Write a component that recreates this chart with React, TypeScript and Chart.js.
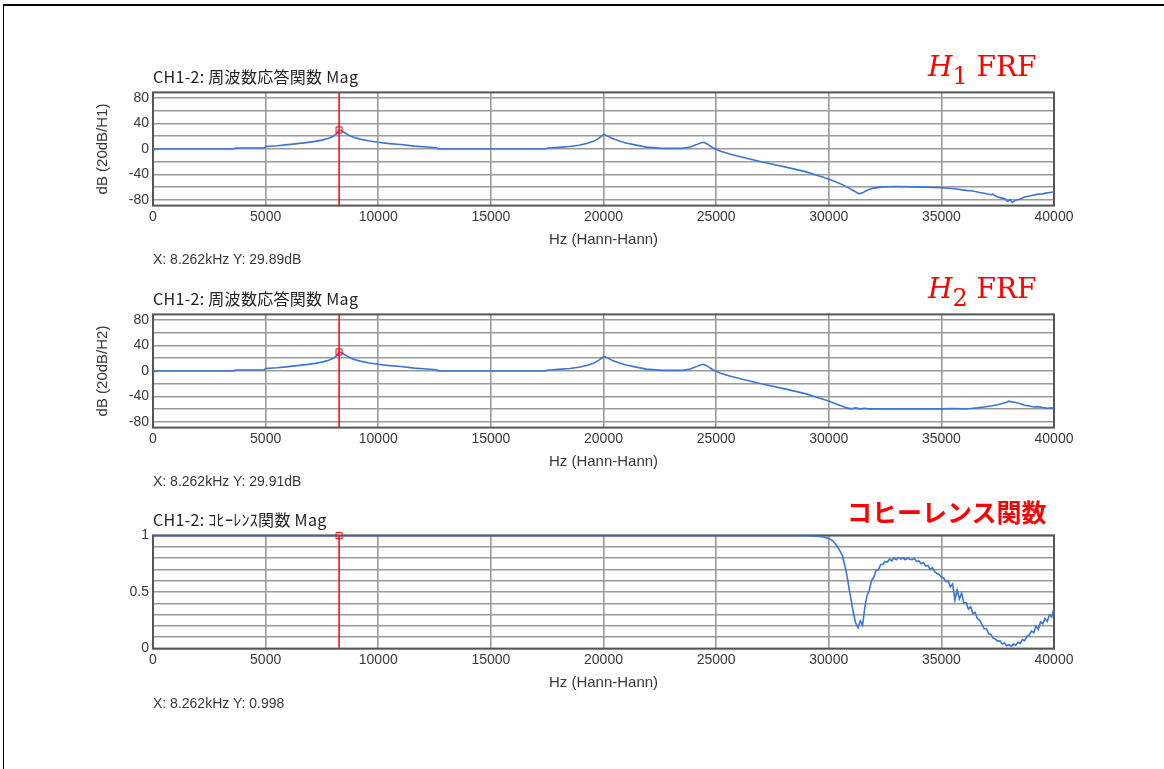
import React, { useEffect, useRef } from "react";
import { Chart, registerables } from "chart.js";

Chart.register(...registerables);

// ---- tick values ----
const xTickHz = [0, 5000, 10000, 15000, 20000, 25000, 30000, 35000, 40000];
const dbGridTicks = [-80, -60, -40, -20, 0, 20, 40, 60, 80];
const dbLabelTicks = [-80, -40, 0, 40, 80];
const cohGridTicks = [0, 0.1, 0.2, 0.3, 0.4, 0.5, 0.6, 0.7, 0.8, 0.9, 1];
const cohLabelTicks = [0, 0.5, 1];

// ---- cursor readouts ----
const cursorHz = 8262;
const cursorH1Db = 29.89;
const cursorH2Db = 29.91;
const cursorCoh = 0.998;

// ---- FRF (shared part 0-30 kHz) ----
const frfLowHz = [0, 200, 3600, 3650, 4950, 5000, 5500, 5900, 6400, 6800, 7200, 7500, 7800, 8000, 8150, 8262, 8350, 8500, 8700, 8900, 9200, 9600, 10000, 10500, 11000, 11600, 12000, 12600, 12650, 17400, 17500, 18000, 18500, 18900, 19250, 19550, 19800, 19950, 20020, 20150, 20400, 20700, 21000, 21400, 21900, 22600, 23500, 23850, 24100, 24300, 24450, 24600, 24850, 25200, 25600, 26300, 27200, 28100, 29000, 29500, 30000];
const frfLowDb = [-1, 0, 0, 1.5, 1.5, 4, 5, 6.5, 8.5, 10, 12, 14, 17, 20, 24, 29.9, 29, 26, 21.5, 18.5, 15.5, 12.5, 10.5, 8.5, 7, 4.5, 3.5, 2, 0, 0, 1.3, 2.5, 4, 6, 8.5, 12, 17, 21.5, 23, 21, 16.5, 12.5, 9.5, 6.5, 3, 1, 1, 3, 6.5, 9.5, 10.5, 8, 2, -3.5, -8, -14, -21.5, -28.5, -36, -41.5, -47];

// ---- H1 tail (30-40 kHz) ----
const h1HighHz = [30300, 30600, 30900, 31150, 31350, 31500, 31700, 32000, 32400, 33000, 33700, 34300, 35000, 35600, 36100, 36400, 36600, 36700, 36900, 37000, 37200, 37300, 37400, 37600, 37800, 37950, 38050, 38150, 38300, 38500, 38600, 38700, 38900, 39000, 39100, 39300, 39500, 39700, 39900, 40000];
const h1HighDb = [-51.5, -56, -61.5, -66.5, -70.5, -69, -65, -61.5, -59.5, -59, -59.5, -60, -61, -62.5, -65, -66, -67.5, -68.5, -69.5, -70.5, -72, -71, -74, -76.5, -78, -82.5, -79.5, -84, -80.5, -78.5, -77, -75.5, -74, -73, -72.5, -71, -70.5, -69, -68, -67.5];

// ---- H2 tail (30-40 kHz) ----
const h2HighHz = [30300, 30600, 30800, 31000, 31200, 31400, 31600, 31800, 32000, 33000, 34000, 35000, 35500, 36000, 36300, 36600, 36900, 37200, 37500, 37700, 37900, 38000, 38100, 38300, 38500, 38700, 38900, 39100, 39300, 39500, 39700, 39900, 40000];
const h2HighDb = [-51.5, -55.5, -58, -59.5, -58, -59.5, -58.5, -59.5, -59.5, -59.5, -59.5, -59.5, -59, -59.5, -59, -58, -56.5, -55, -53, -51, -49, -47.5, -48.5, -49.5, -51.5, -54, -55, -56.5, -56, -57.5, -58.5, -58, -59];

// ---- coherence ----
const cohHz = [0, 29000, 29300, 29600, 29800,
  30000, 30100, 30200, 30300, 30400, 30500, 30600, 30700, 30800, 30900,
  31000, 31100, 31200, 31300, 31400, 31500, 31600, 31700, 31800, 31900,
  32000, 32100, 32200, 32300, 32400, 32500, 32600, 32700, 32800, 32900,
  33000, 33100, 33200, 33300, 33400, 33500, 33600, 33700, 33800, 33900,
  34000, 34100, 34200, 34300, 34400, 34500, 34600, 34700, 34800, 34900,
  35000, 35100, 35200, 35300, 35400, 35500, 35600, 35700, 35800, 35900,
  36000, 36100, 36200, 36300, 36400, 36500, 36600, 36700, 36800, 36900,
  37000, 37100, 37200, 37300, 37400, 37500, 37600, 37700, 37800, 37900,
  38000, 38100, 38200, 38300, 38400, 38500, 38600, 38700, 38800, 38900,
  39000, 39100, 39200, 39300, 39400, 39500, 39600, 39700, 39800, 39900,
  40000];
const cohVal = [0.998, 0.998, 0.995, 0.99, 0.984,
  0.972, 0.962, 0.948, 0.925, 0.895, 0.862, 0.825, 0.745, 0.655, 0.535,
  0.42, 0.31, 0.225, 0.185, 0.245, 0.205, 0.36, 0.47, 0.515, 0.6,
  0.63, 0.69, 0.695, 0.74, 0.745, 0.77, 0.765, 0.79, 0.775, 0.8,
  0.785, 0.805, 0.79, 0.8, 0.785, 0.8, 0.79, 0.785, 0.795, 0.77,
  0.775, 0.75, 0.76, 0.73, 0.735, 0.7, 0.715, 0.68, 0.665, 0.655,
  0.63, 0.625, 0.59, 0.6, 0.545, 0.57, 0.43, 0.52, 0.44, 0.49,
  0.4, 0.405, 0.35, 0.37, 0.31, 0.32, 0.265, 0.25, 0.215, 0.175,
  0.175, 0.13, 0.125, 0.09, 0.085, 0.065, 0.07, 0.04, 0.05, 0.025,
  0.035, 0.02, 0.04, 0.03, 0.055, 0.045, 0.08, 0.07, 0.11, 0.12,
  0.155, 0.14, 0.2, 0.17, 0.235, 0.22, 0.265, 0.24, 0.3, 0.28,
  0.36];

const h1Hz = frfLowHz.concat(h1HighHz);
const h1Db = frfLowDb.concat(h1HighDb);
const h2Hz = frfLowHz.concat(h2HighHz);
const h2Db = frfLowDb.concat(h2HighDb);

const BLUE = "#3a76d2";
const RED = "#ff0000";
const GRID = "#9a9a9a";
const TEXT = "#383838";
const SANS = "'Liberation Sans', Arial, sans-serif";

const framePlugin = {
  id: "frame",
  beforeDatasetsDraw(chart: any) {
    const { ctx, chartArea: a } = chart;
    ctx.save();
    ctx.strokeStyle = "#555555";
    ctx.lineWidth = 2;
    ctx.strokeRect(a.left, a.top, a.right - a.left, a.bottom - a.top);
    ctx.restore();
  },
};

function makeConfig(
  hz: number[],
  vals: number[],
  yMin: number,
  yMax: number,
  gridTicks: number[],
  labelTicks: number[],
  yTitle: string,
  cursorVal: number
): any {
  const pts = hz.map((x, i) => ({ x, y: vals[i] }));
  return {
    type: "line",
    data: {
      datasets: [
        { data: pts, borderColor: BLUE, borderWidth: 1.6, pointRadius: 0, tension: 0, order: 3 },
        {
          data: [{ x: cursorHz, y: yMin }, { x: cursorHz, y: yMax }],
          borderColor: RED,
          borderWidth: 1.5,
          pointRadius: 0,
          order: 2,
        },
        {
          data: [{ x: cursorHz, y: cursorVal }],
          showLine: false,
          pointStyle: "rect",
          pointRadius: 4.3,
          pointBorderColor: RED,
          pointBackgroundColor: "rgba(0,0,0,0)",
          pointBorderWidth: 1,
          clip: false,
          order: 1,
        },
      ],
    },
    options: {
      responsive: false,
      animation: false,
      devicePixelRatio: 1,
      layout: { padding: { top: 9, right: 110, bottom: 0, left: 0 } },
      plugins: { legend: { display: false }, tooltip: { enabled: false }, title: { display: false } },
      scales: {
        x: {
          type: "linear",
          min: 0,
          max: 40000,
          afterBuildTicks: (s: any) => {
            s.ticks = xTickHz.map((v) => ({ value: v }));
          },
          afterFit: (s: any) => {
            s.height = 54.4;
          },
          ticks: {
            callback: (v: any) => String(v),
            font: { family: SANS, size: 14 },
            color: TEXT,
            padding: 3,
            maxRotation: 0,
            autoSkip: false,
          },
          grid: { color: GRID, lineWidth: 1.6, drawTicks: false },
          border: { display: false },
          title: {
            display: true,
            text: "Hz (Hann-Hann)",
            font: { family: SANS, size: 15 },
            color: TEXT,
            padding: { top: 0, bottom: 11 },
          },
        },
        y: {
          type: "linear",
          min: yMin,
          max: yMax,
          afterBuildTicks: (s: any) => {
            s.ticks = gridTicks.map((v) => ({ value: v }));
          },
          afterFit: (s: any) => {
            s.width = 153;
          },
          ticks: {
            callback: (v: any) => (labelTicks.includes(v) ? String(v) : ""),
            font: { family: SANS, size: 14 },
            color: TEXT,
            padding: 4,
            autoSkip: false,
          },
          grid: { color: GRID, lineWidth: 1.6, drawTicks: false },
          border: { display: false },
          title: {
            display: yTitle !== "",
            text: yTitle,
            font: { family: SANS, size: 15 },
            color: TEXT,
            padding: { top: 94, bottom: 0 },
          },
        },
      },
    },
    plugins: [framePlugin],
  };
}

function Panel({ top, config }: { top: number; config: any }) {
  const ref = useRef<HTMLCanvasElement>(null);
  useEffect(() => {
    const chart = new Chart(ref.current as HTMLCanvasElement, config);
    return () => chart.destroy();
  }, []);
  return (
    <canvas
      ref={ref}
      width={1164}
      height={180}
      style={{ position: "absolute", left: 0, top, width: 1164, height: 180, display: "block" }}
    />
  );
}

const titleStyle: React.CSSProperties = {
  position: "absolute",
  left: 153,
  fontFamily: "'Noto Sans CJK JP', sans-serif",
  fontSize: 16,
  lineHeight: "20px",
  color: "#222",
  letterSpacing: "0.3px",
  whiteSpace: "nowrap",
};
const readStyle: React.CSSProperties = {
  position: "absolute",
  left: 153,
  fontFamily: SANS,
  fontSize: 14,
  lineHeight: "18px",
  color: TEXT,
  whiteSpace: "nowrap",
};
const frfLabelStyle: React.CSSProperties = {
  position: "absolute",
  left: 928,
  fontFamily: "'DejaVu Serif', 'Liberation Serif', serif",
  fontSize: 28,
  lineHeight: "32px",
  color: RED,
  whiteSpace: "nowrap",
};

function FrfLabel({ top, sub }: { top: number; sub: string }) {
  return (
    <div style={{ ...frfLabelStyle, top }}>
      <span style={{ fontStyle: "italic" }}>H</span>
      <span style={{ fontSize: 24, position: "relative", top: 8 }}>{sub}</span>
      <span> FRF</span>
    </div>
  );
}

export default function App() {
  const c1 = makeConfig(h1Hz, h1Db, -89, 89, dbGridTicks, dbLabelTicks, "dB (20dB/H1)", cursorH1Db);
  const c2 = makeConfig(h2Hz, h2Db, -89, 89, dbGridTicks, dbLabelTicks, "dB (20dB/H2)", cursorH2Db);
  const c3 = makeConfig(cohHz, cohVal, 0, 1, cohGridTicks, cohLabelTicks, "", cursorCoh);
  return (
    <div
      style={{
        position: "absolute",
        left: 0,
        top: 0,
        width: 1164,
        height: 769,
        overflow: "hidden",
        background: "#fff",
      }}
    >
      <div
        style={{
          position: "absolute",
          left: 3,
          top: 4,
          width: 1200,
          height: 800,
          borderTop: "2px solid #000",
          borderLeft: "1px solid #000",
        }}
      />
      <Panel top={80} config={c1} />
      <Panel top={302} config={c2} />
      <Panel top={523} config={c3} />

      <div style={{ ...titleStyle, top: 66 }}>CH1-2: 周波数応答関数 Mag</div>
      <div style={{ ...titleStyle, top: 288 }}>CH1-2: 周波数応答関数 Mag</div>
      <div style={{ ...titleStyle, top: 509 }}>CH1-2: ｺﾋｰﾚﾝｽ関数 Mag</div>

      <div style={{ ...readStyle, top: 250 }}>X: 8.262kHz Y: 29.89dB</div>
      <div style={{ ...readStyle, top: 472 }}>X: 8.262kHz Y: 29.91dB</div>
      <div style={{ ...readStyle, top: 694 }}>X: 8.262kHz Y: 0.998</div>

      <FrfLabel top={51} sub="1" />
      <FrfLabel top={273} sub="2" />
      <div
        style={{
          position: "absolute",
          left: 847,
          top: 496,
          fontFamily: "'Noto Sans CJK JP', sans-serif",
          fontWeight: 700,
          fontSize: 25,
          lineHeight: "30px",
          color: RED,
          whiteSpace: "nowrap",
        }}
      >
        コヒーレンス関数
      </div>
    </div>
  );
}
